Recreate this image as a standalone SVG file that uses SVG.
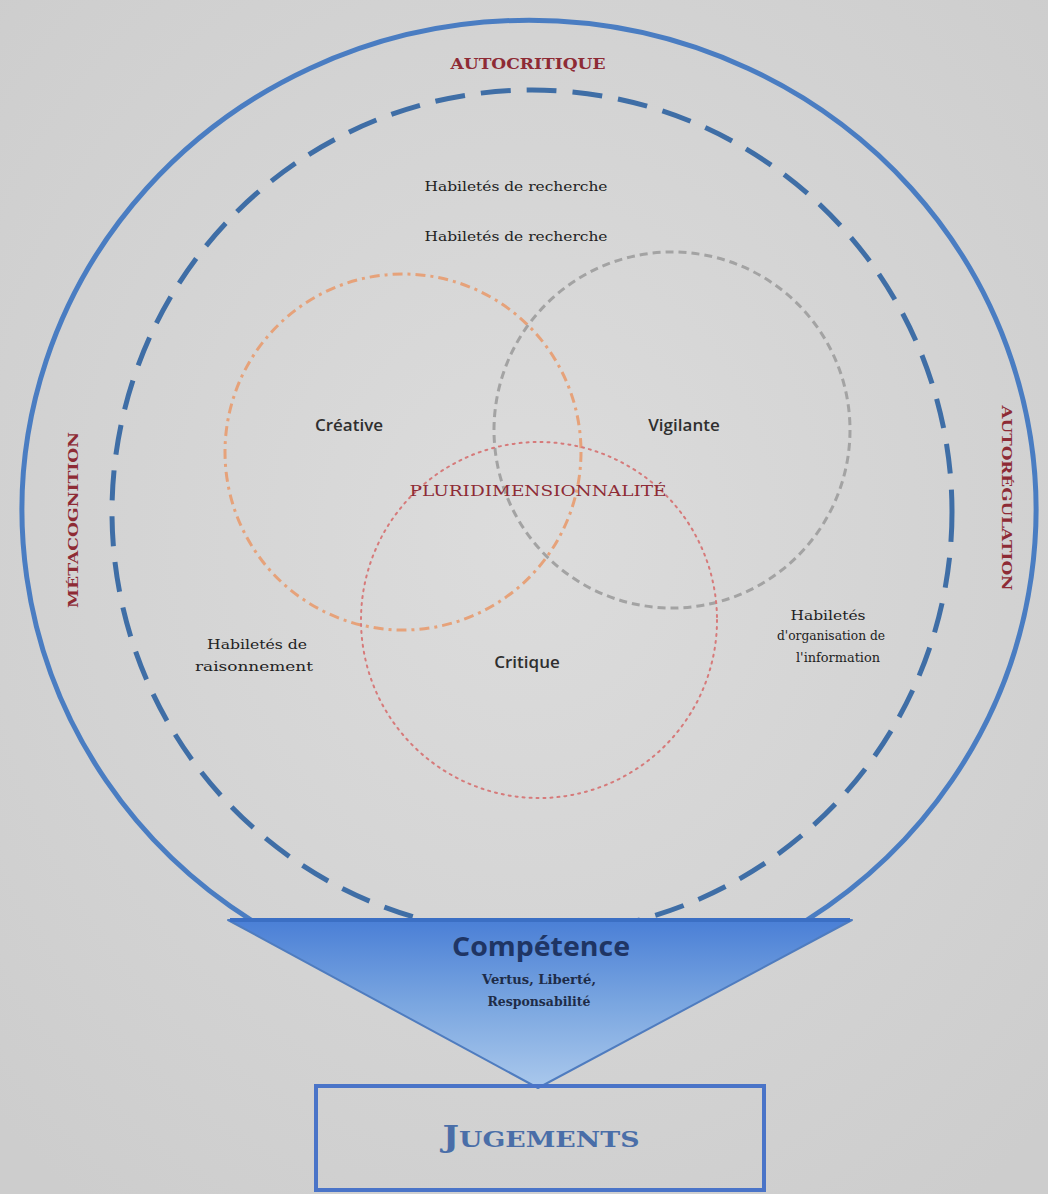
<svg xmlns="http://www.w3.org/2000/svg" width="1048" height="1194" viewBox="0 0 1048 1194">
<defs>
<radialGradient id="bg" cx="50%" cy="45%" r="70%">
<stop offset="0" stop-color="#dcdcdc"/>
<stop offset="1" stop-color="#cdcdcd"/>
</radialGradient>
<linearGradient id="funnel" x1="0" y1="0" x2="0" y2="1">
<stop offset="0" stop-color="#4a7fd6"/>
<stop offset="0.5" stop-color="#7aa6e0"/>
<stop offset="1" stop-color="#aac8ec"/>
</linearGradient>
<style>
.serif{font-family:"DejaVu Serif","Liberation Serif",serif;}
.sans{font-family:"Open Sans","Liberation Sans",sans-serif;}
.red{fill:#8e2b35;font-weight:bold;}
.small{font-size:12px;fill:#222;}
.lab{font-size:17px;fill:#2f2f2f;font-weight:600;}
</style>
</defs>
<rect width="1048" height="1194" fill="url(#bg)"/>

<g id="outer-circle">
<path d="M 251 920 A 507 490 0 1 1 807 920" fill="none" stroke="#4a7dc2" stroke-width="5"/>
</g>
<g id="dashed-circle">
<ellipse cx="532" cy="512" rx="420" ry="422" fill="none" stroke="#3f6ea6" stroke-width="5" stroke-dasharray="30 16"/>
</g>
<g id="creative">
<circle cx="403" cy="452" r="178" fill="none" stroke="#e6a27a" stroke-width="3" stroke-dasharray="10 5 3 5"/>
<text class="sans lab" x="349" y="431" text-anchor="middle">Créative</text>
</g>
<g id="vigilante">
<circle cx="672" cy="430" r="178" fill="none" stroke="#a3a3a3" stroke-width="3" stroke-dasharray="8 5"/>
<text class="sans lab" x="684" y="431" text-anchor="middle">Vigilante</text>
</g>
<g id="critique">
<circle cx="539" cy="620" r="178" fill="none" stroke="#d67a7a" stroke-width="2" stroke-dasharray="2 5" stroke-linecap="round"/>
<text class="sans lab" x="527" y="668" text-anchor="middle">Critique</text>
</g>

<g id="autocritique"><text class="serif red" x="528" y="69" font-size="14" text-anchor="middle" textLength="155" lengthAdjust="spacingAndGlyphs">AUTOCRITIQUE</text></g>
<g id="recherche1"><text class="serif small" x="516" y="191" text-anchor="middle" textLength="183" lengthAdjust="spacingAndGlyphs">Habiletés de recherche</text></g>
<g id="recherche2"><text class="serif small" x="516" y="241" text-anchor="middle" textLength="183" lengthAdjust="spacingAndGlyphs">Habiletés de recherche</text></g>
<g id="pluri"><text class="serif red" x="538" y="496" font-size="15" text-anchor="middle" textLength="257" lengthAdjust="spacingAndGlyphs" style="font-weight:normal" fill="#9a2f3c">PLURIDIMENSIONNALITÉ</text></g>
<g id="metacognition"><text class="serif red" transform="translate(78 520) rotate(-90)" x="0" y="0" font-size="13" text-anchor="middle" textLength="176" lengthAdjust="spacingAndGlyphs">MÉTACOGNITION</text></g>
<g id="autoregulation"><text class="serif red" transform="translate(1002 498) rotate(90)" x="0" y="0" font-size="13" text-anchor="middle" textLength="185" lengthAdjust="spacingAndGlyphs">AUTORÉGULATION</text></g>
<g id="raisonnement">
<text class="serif small" x="257" y="649" text-anchor="middle" textLength="100" lengthAdjust="spacingAndGlyphs">Habiletés de</text>
<text class="serif small" x="254" y="671" text-anchor="middle" textLength="118" lengthAdjust="spacingAndGlyphs">raisonnement</text>
</g>
<g id="organisation">
<text class="serif small" x="828" y="620" text-anchor="middle" textLength="75" lengthAdjust="spacingAndGlyphs">Habiletés</text>
<text class="serif small" x="831" y="640" text-anchor="middle" textLength="108" lengthAdjust="spacingAndGlyphs">d'organisation de</text>
<text class="serif small" x="838" y="662" text-anchor="middle" textLength="84" lengthAdjust="spacingAndGlyphs">l'information</text>
</g>

<g id="competence">
<path d="M 228 920 L 852 920 L 538 1088 Z" fill="url(#funnel)" stroke="#4f7cbf" stroke-width="2" stroke-linejoin="round"/>
<line x1="230" y1="920" x2="850" y2="920" stroke="#3b6fc4" stroke-width="4"/>
<text class="sans" x="541" y="956" font-size="26" font-weight="bold" fill="#1f3564" text-anchor="middle" textLength="178" lengthAdjust="spacingAndGlyphs">Compétence</text>
<text class="serif" x="539" y="984" font-size="13" font-weight="bold" fill="#1e2c48" text-anchor="middle" textLength="114" lengthAdjust="spacingAndGlyphs">Vertus, Liberté,</text>
<text class="serif" x="539" y="1006" font-size="13" font-weight="bold" fill="#1e2c48" text-anchor="middle" textLength="103" lengthAdjust="spacingAndGlyphs">Responsabilité</text>
</g>

<g id="jugements">
<rect x="316" y="1086" width="448" height="104" fill="none" stroke="#4a74c8" stroke-width="4"/>
<text class="serif" x="541" y="1147" fill="#4a6ea8" font-weight="bold" text-anchor="middle" textLength="197" lengthAdjust="spacingAndGlyphs"><tspan font-size="30">J</tspan><tspan font-size="23">UGEMENTS</tspan></text>
</g>
</svg>
